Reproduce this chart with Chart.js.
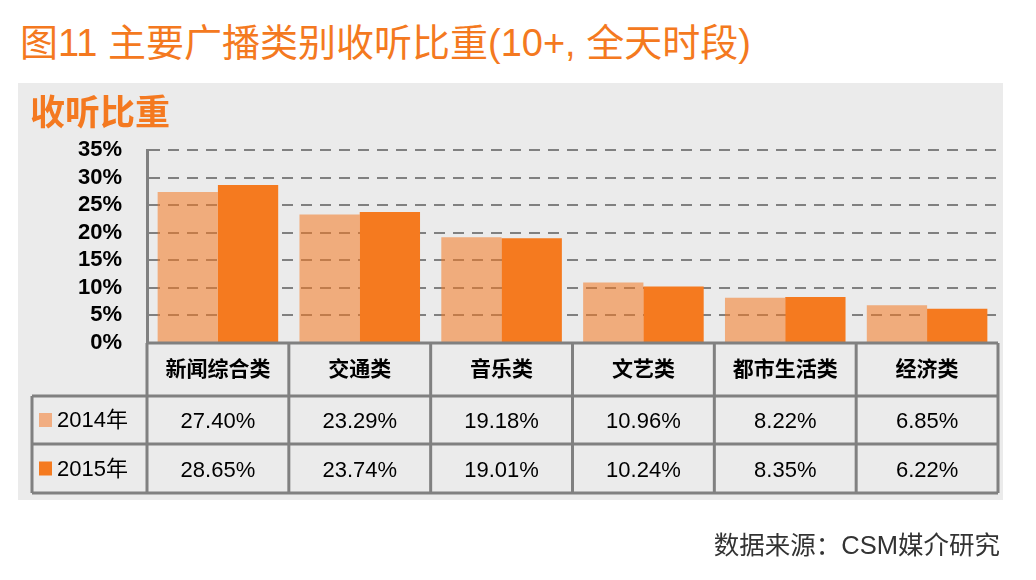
<!DOCTYPE html>
<html>
<head>
    <meta charset="UTF-8">
    <title>主要广播类别收听比重</title>
    <style>
        body {
            margin: 0;
            background-color: white;
            font-family: "Liberation Sans", "Noto Sans CJK SC", sans-serif;
        }
        #page {
            position: relative;
            width: 1036px;
            height: 580px;
            overflow: hidden;
        }
        #title {
            position: absolute;
            left: 20px;
            top: 12px;
            font-size: 38px;
            color: #f47920;
            white-space: nowrap;
        }
        #panel {
            position: absolute;
            left: 18px;
            top: 83px;
            width: 985px;
            height: 417px;
            background-color: #ebebeb;
        }
        #subtitle {
            position: absolute;
            left: 30px;
            top: 84px;
            font-size: 35px;
            font-weight: bold;
            color: #f47920;
            z-index: 2;
        }
        #source {
            position: absolute;
            right: 36px;
            top: 524px;
            font-size: 25.5px;
            color: #333333;
            white-space: nowrap;
        }
        #chartBox {
            position: absolute;
            left: 0;
            top: 0;
            width: 1036px;
            height: 580px;
        }
    </style>
    <script src="https://cdn.jsdelivr.net/npm/chart.js"></script>
</head>
<body>
<div id="page">
    <div id="title">图11 主要广播类别收听比重(10+, 全天时段)</div>
    <div id="panel"></div>
    <div id="subtitle">收听比重</div>
    <div id="chartBox"><canvas id="barChart"></canvas></div>
    <div id="source">数据来源：CSM媒介研究</div>
</div>
<script>
    // data
    const categories = ['新闻综合类', '交通类', '音乐类', '文艺类', '都市生活类', '经济类'];
    const seriesNames = ['2014年', '2015年'];
    const values2014 = [27.40, 23.29, 19.18, 10.96, 8.22, 6.85];
    const values2015 = [28.65, 23.74, 19.01, 10.24, 8.35, 6.22];
    const yTicks = [0, 5, 10, 15, 20, 25, 30, 35];

    const lightColor = 'rgba(244, 121, 32, 0.55)';
    const lightSolid = '#f1ad81';
    const darkColor = '#f57a1f';
    const lineGray = '#808080';
    const fontFamily = '"Liberation Sans", "Noto Sans CJK SC"';

    // draws the data table under the plot, columns follow the x scale
    const tablePlugin = {
        id: 'dataTable',
        afterDraw(chart) {
            const ctx = chart.ctx;
            const area = chart.chartArea;
            const n = categories.length;
            const colW = area.width / n;
            const top = area.bottom;
            const row1 = top + 53;
            const row2 = row1 + 48;
            const bottom = row2 + 49;
            const legendLeft = 32;

            ctx.save();
            ctx.strokeStyle = lineGray;
            ctx.lineWidth = 3;
            ctx.beginPath();
            // horizontal lines
            ctx.moveTo(area.left, top); ctx.lineTo(area.right, top);
            [row1, row2, bottom].forEach(function (y) {
                ctx.moveTo(legendLeft, y); ctx.lineTo(area.right, y);
            });
            // vertical lines
            for (let i = 0; i <= n; i++) {
                const x = area.left + i * colW;
                ctx.moveTo(x, top); ctx.lineTo(x, bottom);
            }
            ctx.moveTo(legendLeft, row1); ctx.lineTo(legendLeft, bottom);
            ctx.stroke();

            ctx.textAlign = 'center';
            ctx.textBaseline = 'middle';
            ctx.fillStyle = '#000';
            ctx.font = 'bold 21px ' + fontFamily;
            for (let i = 0; i < n; i++) {
                const cx = chart.scales.x.getPixelForValue(i);
                ctx.fillText(categories[i], cx, (top + row1) / 2 + 1);
            }
            ctx.font = '22px ' + fontFamily;
            for (let i = 0; i < n; i++) {
                const cx = chart.scales.x.getPixelForValue(i);
                ctx.fillText(values2014[i].toFixed(2) + '%', cx, (row1 + row2) / 2 + 2);
                ctx.fillText(values2015[i].toFixed(2) + '%', cx, (row2 + bottom) / 2 + 2);
            }

            // legend cells
            ctx.textAlign = 'left';
            const rows = [(row1 + row2) / 2, (row2 + bottom) / 2];
            const swatch = [lightSolid, darkColor];
            for (let r = 0; r < 2; r++) {
                ctx.fillStyle = swatch[r];
                ctx.fillRect(39, rows[r] - 7, 13, 14);
                ctx.fillStyle = '#000';
                ctx.fillText(seriesNames[r], 57, rows[r] + 1);
            }
            ctx.restore();
        }
    };

    const data = {
        labels: categories,
        datasets: [{
            label: seriesNames[0],
            data: values2014,
            backgroundColor: lightColor,
            barPercentage: 1,
            categoryPercentage: 0.85
        }, {
            label: seriesNames[1],
            data: values2015,
            backgroundColor: darkColor,
            barPercentage: 1,
            categoryPercentage: 0.85
        }]
    };

    const config = {
        type: 'bar',
        data: data,
        options: {
            responsive: true,
            maintainAspectRatio: false,
            animation: false,
            layout: {
                padding: { left: 0, top: 150, right: 38, bottom: 237 }
            },
            plugins: {
                legend: { display: false },
                tooltip: { enabled: false }
            },
            scales: {
                x: {
                    display: false
                },
                y: {
                    min: 0,
                    max: 35,
                    afterFit: function (scale) { scale.width = 147; },
                    afterBuildTicks: function (scale) {
                        scale.ticks = yTicks.map(function (v) { return { value: v }; });
                    },
                    ticks: {
                        autoSkip: false,
                        padding: 25,
                        color: '#000',
                        font: { family: fontFamily, size: 22, weight: 'bold' },
                        callback: function (v) { return v + '%'; }
                    },
                    grid: {
                        color: lineGray,
                        lineWidth: 2,
                        drawTicks: false
                    },
                    border: {
                        display: true,
                        color: lineGray,
                        width: 3,
                        dash: [11, 8]
                    }
                }
            }
        },
        plugins: [tablePlugin]
    };

    new Chart(document.getElementById('barChart'), config);
</script>
</body>
</html>
